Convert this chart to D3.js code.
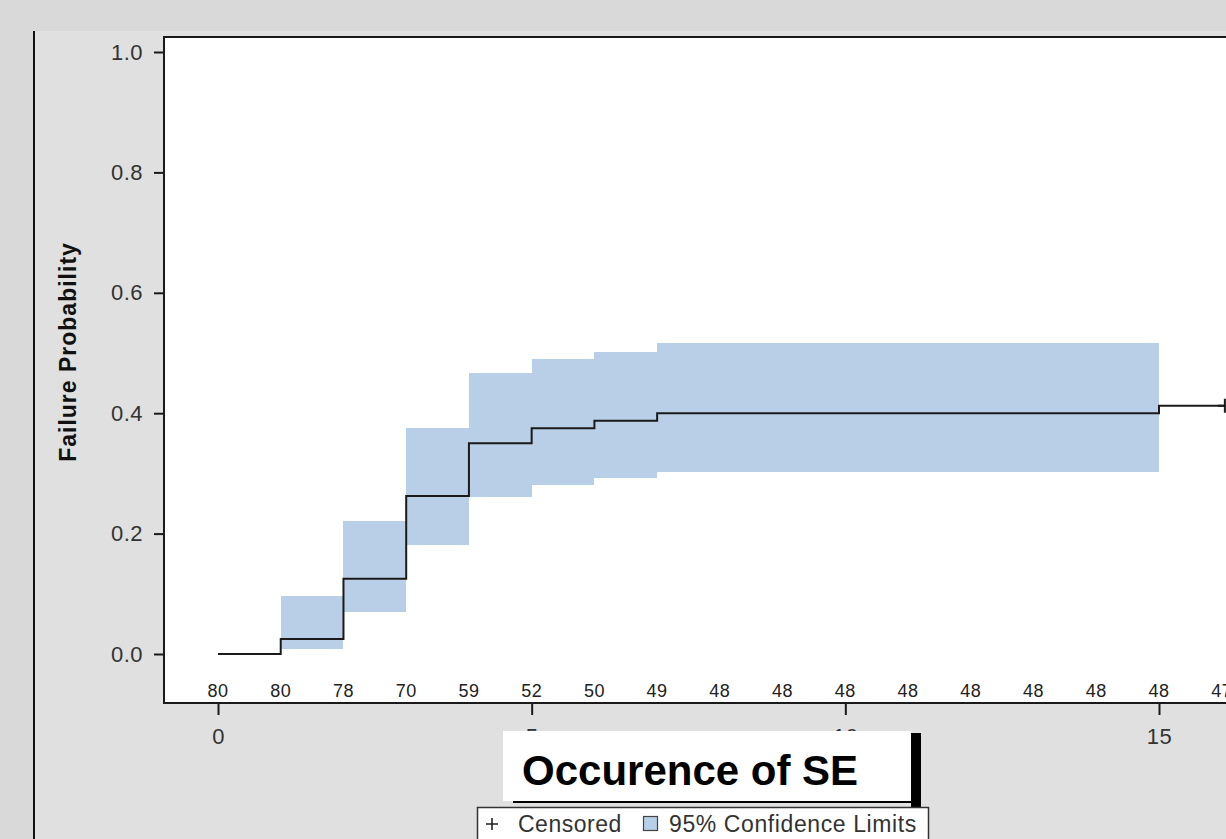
<!DOCTYPE html>
<html>
<head>
<meta charset="utf-8">
<script src="https://cdn.jsdelivr.net/npm/d3@7"></script>
<style>
  body { margin: 0; background: #d9d9d9; overflow: hidden; }
  svg { display: block; font-family: "Liberation Sans", Arial, sans-serif; }
</style>
</head>
<body>
<div class="chart"></div>
<script>
// product-limit failure curve (step times and estimates)
var stepTimes = [0, 1, 2, 3, 4, 5, 6, 7, 15];
var failureProb = [0, 0.025, 0.125, 0.2625, 0.35, 0.375, 0.3875, 0.4, 0.4125];
var censorTimes = [16.05];
var censorProb = [0.4125];

// 95% confidence band, one block per step
var bandStart = [1, 2, 3, 4, 5, 6, 7];
var bandEnd = [2, 3, 4, 5, 6, 7, 15];
var lowerCL = [0.008, 0.069, 0.181, 0.260, 0.280, 0.293, 0.302];
var upperCL = [0.097, 0.221, 0.375, 0.467, 0.490, 0.502, 0.516];

// number at risk
var riskTimes = [0, 1, 2, 3, 4, 5, 6, 7, 8, 9, 10, 11, 12, 13, 14, 15, 16];
var atRisk = [80, 80, 78, 70, 59, 52, 50, 49, 48, 48, 48, 48, 48, 48, 48, 48, 47];

var xTicks = [0, 5, 10, 15];
var yTicks = [0, 0.2, 0.4, 0.6, 0.8, 1.0];

var W = 1226, H = 839;
var frame = { left: 164, top: 37, right: 1260, bottom: 703 };

var svg = d3.select(".chart").append("svg")
            .attr("width", W)
            .attr("height", H);

var x = d3.scaleLinear().domain([0, 15]).range([218, 1159]);
var y = d3.scaleLinear().domain([0, 1]).range([654, 52]);

// panel background
svg.append("rect")
   .attr("x", 35).attr("y", 31)
   .attr("width", W - 35).attr("height", H - 31)
   .attr("fill", "#e0e0e0");
svg.append("line")
   .attr("x1", 34).attr("x2", 34)
   .attr("y1", 31).attr("y2", H)
   .attr("stroke", "#111")
   .attr("stroke-width", 2);

// plot area
svg.append("rect")
   .attr("x", frame.left).attr("y", frame.top)
   .attr("width", frame.right - frame.left)
   .attr("height", frame.bottom - frame.top)
   .attr("fill", "#fff");

// confidence band
var bands = bandStart.map(function(d, i) {
  return { start: d, end: bandEnd[i], lo: lowerCL[i], hi: upperCL[i] };
});
svg.append("g").selectAll("rect")
   .data(bands)
   .enter().append("rect")
     .attr("x", function(d) { return x(d.start); })
     .attr("width", function(d) { return x(d.end) - x(d.start); })
     .attr("y", function(d) { return y(d.hi); })
     .attr("height", function(d) { return y(d.lo) - y(d.hi); })
     .attr("fill", "#b9cfe7")
     .attr("shape-rendering", "crispEdges");

// step line
var pts = stepTimes.map(function(t, i) { return [t, failureProb[i]]; });
pts.push([censorTimes[0], censorProb[0]]);
var line = d3.line()
             .x(function(d) { return x(d[0]); })
             .y(function(d) { return y(d[1]); })
             .curve(d3.curveStepAfter);
svg.append("path")
   .datum(pts)
   .attr("d", line)
   .attr("fill", "none")
   .attr("stroke", "#1a1a1a")
   .attr("stroke-width", 2);

// censored marks
svg.append("g").selectAll("path")
   .data(censorTimes)
   .enter().append("path")
     .attr("transform", function(d, i) {
       return "translate(" + x(d) + "," + y(censorProb[i]) + ")";
     })
     .attr("d", "M-7,0H7M0,-7V7")
     .attr("stroke", "#1a1a1a")
     .attr("stroke-width", 2);

// at-risk counts
svg.append("g").selectAll("text")
   .data(riskTimes)
   .enter().append("text")
     .attr("x", function(d) { return x(d); })
     .attr("y", 697)
     .attr("text-anchor", "middle")
     .attr("font-size", "18px")
     .attr("letter-spacing", "0.5px")
     .attr("fill", "#222")
     .text(function(d, i) { return atRisk[i]; });

// frame
svg.append("rect")
   .attr("x", frame.left).attr("y", frame.top)
   .attr("width", frame.right - frame.left)
   .attr("height", frame.bottom - frame.top)
   .attr("fill", "none")
   .attr("stroke", "#1a1a1a")
   .attr("stroke-width", 2);

// axes
var yAxis = svg.append("g")
   .attr("transform", "translate(" + frame.left + ",0)")
   .call(d3.axisLeft(y).tickValues(yTicks).tickFormat(d3.format(".1f"))
           .tickSize(10).tickPadding(11));
var xAxis = svg.append("g")
   .attr("transform", "translate(0," + (frame.bottom + 1) + ")")
   .call(d3.axisBottom(x).tickValues(xTicks).tickSize(11).tickPadding(13));
[yAxis, xAxis].forEach(function(a) {
  a.select(".domain").remove();
  a.selectAll("line").attr("stroke", "#1a1a1a").attr("stroke-width", 2);
  a.selectAll("text")
   .attr("font-family", "Liberation Sans, Arial, sans-serif")
   .attr("font-size", "22px")
   .attr("letter-spacing", "0.5px")
   .attr("fill", "#333");
});

// y title
svg.append("text")
   .attr("transform", "translate(76,352) rotate(-90)")
   .attr("text-anchor", "middle")
   .attr("font-size", "23px")
   .attr("font-weight", "bold")
   .attr("letter-spacing", "1px")
   .attr("fill", "#111")
   .text("Failure Probability");

// title box with shadow
svg.append("rect")
   .attr("x", 911).attr("y", 733)
   .attr("width", 10).attr("height", 76)
   .attr("fill", "#000");
svg.append("rect")
   .attr("x", 513).attr("y", 800)
   .attr("width", 408).attr("height", 3)
   .attr("fill", "#000");
svg.append("rect")
   .attr("x", 503).attr("y", 731)
   .attr("width", 408).attr("height", 70)
   .attr("fill", "#fff");
svg.append("text")
   .attr("x", 522).attr("y", 785)
   .attr("font-size", "42px")
   .attr("font-weight", "bold")
   .attr("fill", "#000")
   .text("Occurence of SE");

// legend
var legend = svg.append("g");
legend.append("rect")
   .attr("x", 477.5).attr("y", 807.5)
   .attr("width", 451).attr("height", 50)
   .attr("fill", "#fff")
   .attr("stroke", "#333")
   .attr("stroke-width", 1.5);
legend.append("path")
   .attr("transform", "translate(492,824)")
   .attr("d", "M-6,0H6M0,-6V6")
   .attr("stroke", "#222")
   .attr("stroke-width", 1.6);
legend.append("text")
   .attr("x", 518).attr("y", 832)
   .attr("font-size", "23px")
   .attr("letter-spacing", "0.5px")
   .attr("fill", "#333")
   .text("Censored");
legend.append("rect")
   .attr("x", 643.5).attr("y", 816.5)
   .attr("width", 14).attr("height", 14)
   .attr("fill", "#b9cfe7")
   .attr("stroke", "#444")
   .attr("stroke-width", 1.2);
legend.append("text")
   .attr("x", 669).attr("y", 832)
   .attr("font-size", "23px")
   .attr("letter-spacing", "0.6px")
   .attr("fill", "#333")
   .text("95% Confidence Limits");
</script>
</body>
</html>
